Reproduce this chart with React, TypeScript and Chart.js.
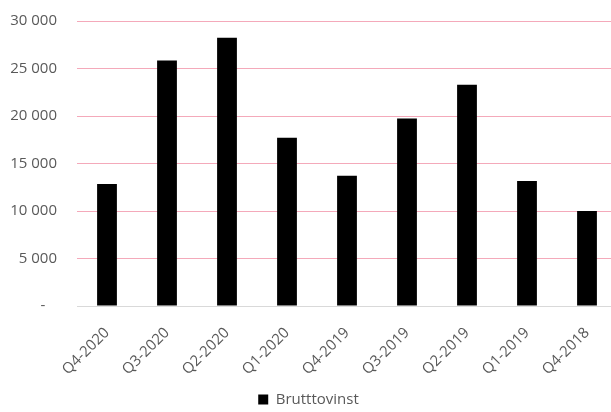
import React, { useEffect, useRef } from "react";
import { Chart, registerables } from "chart.js";

Chart.register(...registerables);

const categories = ["Q4-2020", "Q3-2020", "Q2-2020", "Q1-2020", "Q4-2019", "Q3-2019", "Q2-2019", "Q1-2019", "Q4-2018"];
const seriesName = "Brutttovinst";
const values = [12850, 25850, 28250, 17700, 13700, 19750, 23300, 13150, 10000];
const yMax = 30000;
const yStep = 5000;

const FONT = "'Open Sans', sans-serif";

function fmt(v: number): string {
  if (v === 0) return "-   ";
  return String(v).replace(/\B(?=(\d{3})+(?!\d))/g, " ");
}

export default function App() {
  const ref = useRef<HTMLCanvasElement | null>(null);
  useEffect(() => {
    document.body.style.overflow = "hidden";
    const ctx = ref.current!;
    const chart = new Chart(ctx, {
      type: "bar",
      data: {
        labels: categories,
        datasets: [
          {
            label: seriesName,
            data: values,
            backgroundColor: "#000000",
            borderWidth: 0,
            categoryPercentage: 1,
            barPercentage: 0.33,
          },
        ],
      },
      options: {
        animation: false,
        responsive: false,
        maintainAspectRatio: false,
        layout: { padding: { top: 21, left: 0, right: 0, bottom: -5 } },
        plugins: {
          legend: {
            position: "bottom",
            labels: {
              color: "#595959",
              font: { family: FONT, size: 15 },
              boxWidth: 10,
              boxHeight: 10,
              padding: 0,
            },
          },
          tooltip: { enabled: false },
        },
        scales: {
          x: {
            grid: { display: false, drawTicks: false },
            border: { display: true, color: "#d9d9d9", width: 1 },
            ticks: {
              color: "#595959",
              font: { family: FONT, size: 15 },
              maxRotation: 45,
              minRotation: 45,
              padding: 18,
            },
            afterFit: (s: any) => {
              s.height = 86;
              s.paddingLeft = 0;
              s.paddingRight = 0;
            },
          },
          y: {
            min: 0,
            max: yMax,
            grid: {
              drawTicks: false,
              color: (c: any) => (c.index === 0 ? "#d9d9d9" : "#f4a9ba"),
              lineWidth: 1,
            },
            border: { display: false },
            ticks: {
              stepSize: yStep,
              color: "#595959",
              font: { family: FONT, size: 15 },
              padding: 20,
              callback: (v: any) => fmt(Number(v)),
            },
            afterFit: (s: any) => {
              s.width = 77;
              s.paddingTop = 0;
              s.paddingBottom = 0;
            },
          },
        },
      },
    });
    return () => chart.destroy();
  }, []);
  return (
    <div style={{ position: "fixed", left: 0, top: 0, width: 617, height: 412 }}>
      <canvas ref={ref} width={617} height={412} style={{ display: "block" }} />
    </div>
  );
}
